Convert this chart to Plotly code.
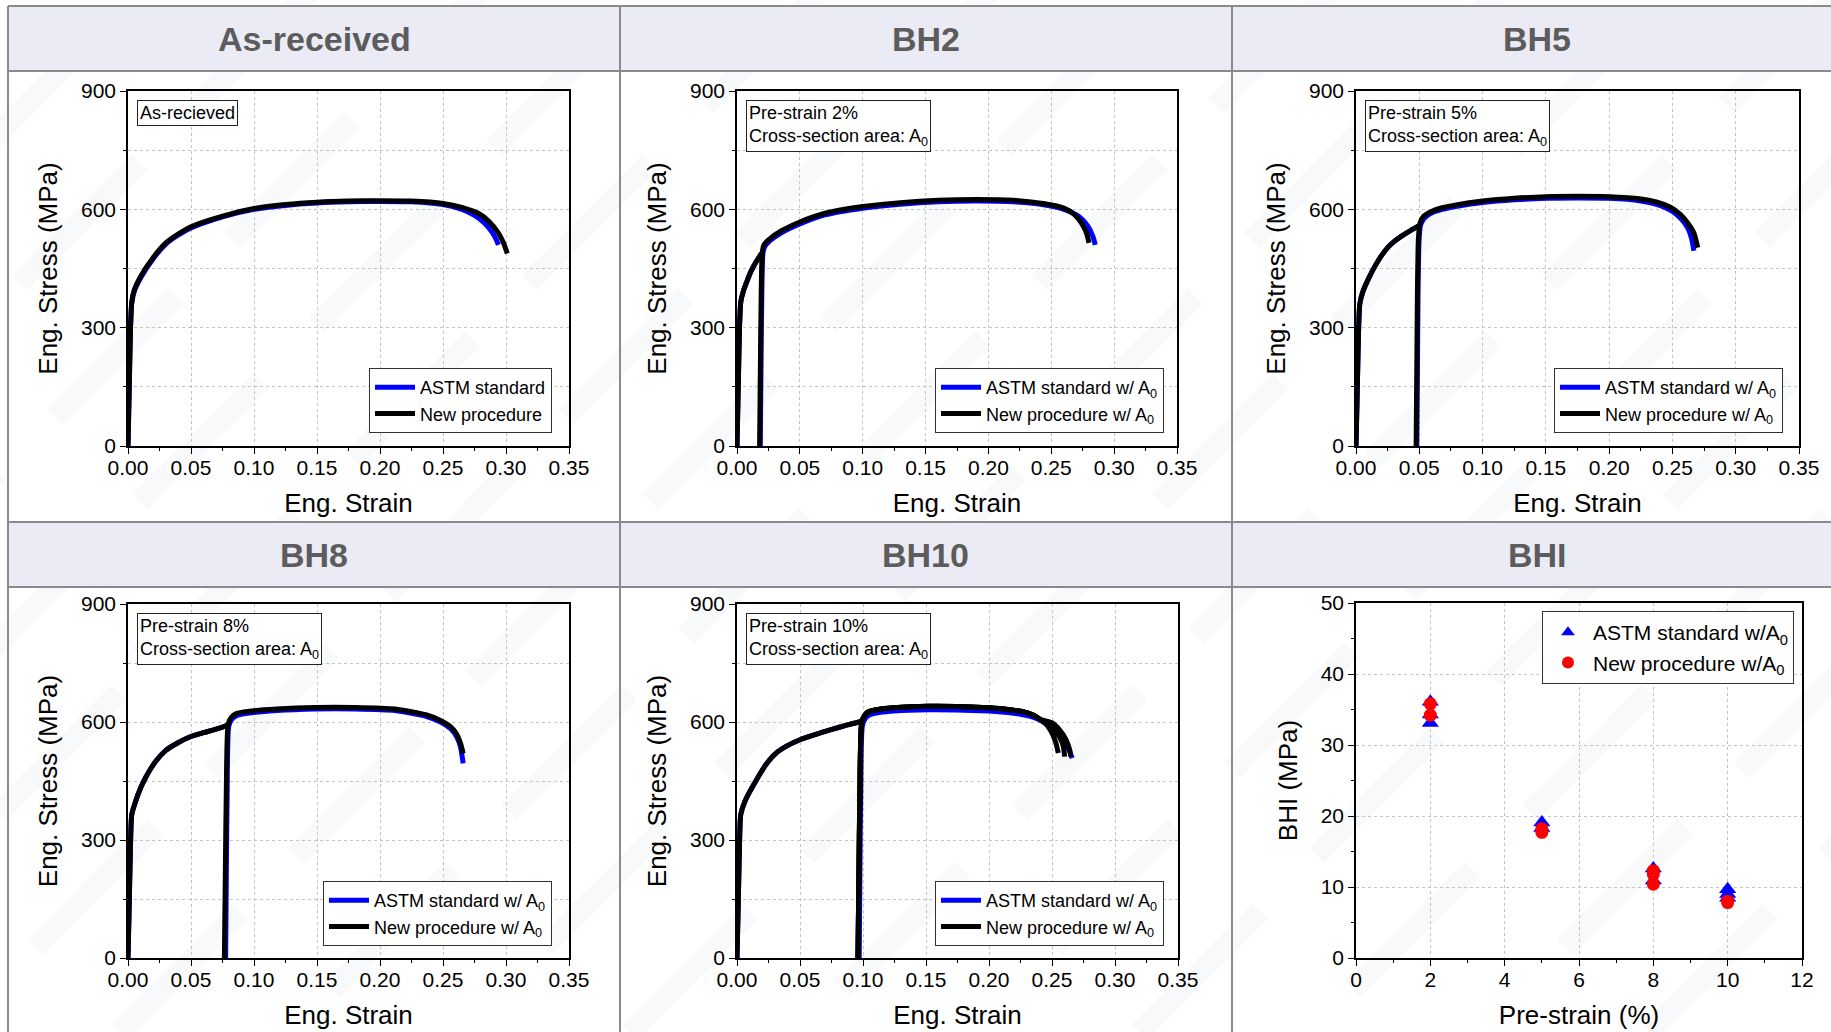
import plotly.graph_objects as go

# ---------------------------------------------------------------- data
# Engineering stress-strain readings (strain [-], stress [MPa])

# As-received
AR_ASTM_STRAIN = [0, 0.001, 0.002, 0.003, 0.005, 0.010, 0.020, 0.030, 0.040, 0.050, 0.075, 0.100,
                  0.125, 0.150, 0.175, 0.200, 0.225, 0.250, 0.265, 0.275, 0.283, 0.289, 0.292, 0.294]
AR_ASTM_STRESS = [0, 150, 300, 362, 392, 426, 475, 512, 535, 553, 581, 600,
                  610, 616, 619, 620, 619, 612, 600, 585, 565, 542, 525, 510]
AR_NEW_STRAIN = [0, 0.001, 0.002, 0.003, 0.005, 0.010, 0.020, 0.030, 0.040, 0.050, 0.075, 0.100,
                 0.125, 0.150, 0.175, 0.200, 0.225, 0.250, 0.265, 0.278, 0.287, 0.294, 0.298, 0.301]
AR_NEW_STRESS = [0, 150, 300, 366, 396, 430, 478, 515, 538, 556, 583, 602,
                 612, 618, 621, 622, 621, 615, 605, 590, 568, 540, 515, 488]

# BH2: 2 % pre-strain, then bake and reload
BH2_PRE_STRAIN = [0, 0.001, 0.002, 0.003, 0.005, 0.008, 0.011, 0.015, 0.0195]
BH2_PRE_STRESS = [0, 150, 300, 365, 392, 418, 442, 466, 488]
BH2_ASTM_STRAIN = [0.0185, 0.019, 0.0198, 0.0207, 0.022, 0.026, 0.035, 0.050, 0.070, 0.100, 0.130,
                   0.160, 0.190, 0.220, 0.245, 0.260, 0.272, 0.279, 0.283, 0.285]
BH2_ASTM_STRESS = [0, 170, 400, 490, 505, 520, 540, 563, 586, 603, 613,
                   619, 621, 619, 611, 600, 582, 558, 532, 510]
BH2_NEW_STRAIN = [0.018, 0.0185, 0.0193, 0.0202, 0.0215, 0.026, 0.035, 0.050, 0.070, 0.100, 0.130,
                  0.160, 0.190, 0.220, 0.245, 0.260, 0.268, 0.274, 0.278, 0.280]
BH2_NEW_STRESS = [0, 170, 400, 495, 510, 525, 545, 568, 590, 607, 617,
                  623, 625, 623, 614, 603, 588, 565, 540, 515]

# BH5: 5 % pre-strain
BH5_PRE_STRAIN = [0, 0.001, 0.002, 0.003, 0.0055, 0.010, 0.015, 0.020, 0.025, 0.030, 0.036, 0.042, 0.0495]
BH5_PRE_STRESS = [0, 140, 290, 360, 392, 425, 456, 482, 503, 518, 532, 544, 558]
BH5_ASTM_STRAIN = [0.048, 0.0485, 0.049, 0.0498, 0.051, 0.054, 0.060, 0.068, 0.080, 0.100, 0.125,
                   0.150, 0.175, 0.200, 0.224, 0.240, 0.250, 0.257, 0.262, 0.265, 0.267]
BH5_ASTM_STRESS = [0, 180, 380, 520, 560, 578, 591, 600, 608, 617, 624,
                   628, 629, 628, 622, 610, 595, 575, 553, 528, 495]
BH5_NEW_STRAIN = [0.0475, 0.048, 0.0485, 0.0493, 0.0505, 0.0536, 0.060, 0.068, 0.080, 0.100, 0.125,
                  0.150, 0.175, 0.200, 0.224, 0.238, 0.248, 0.256, 0.262, 0.267, 0.270]
BH5_NEW_STRESS = [0, 180, 380, 525, 565, 583, 595, 604, 612, 621, 628,
                  632, 633, 632, 627, 618, 606, 588, 566, 540, 503]

# BH8: 8 % pre-strain
BH8_PRE_STRAIN = [0, 0.001, 0.002, 0.003, 0.006, 0.010, 0.014, 0.022, 0.030, 0.040, 0.049,
                  0.060, 0.068, 0.075, 0.080]
BH8_PRE_STRESS = [0, 140, 290, 365, 398, 432, 459, 500, 528, 548, 562, 573, 580, 587, 593]
BH8_ASTM_STRAIN = [0.0775, 0.078, 0.0787, 0.080, 0.0825, 0.087, 0.095, 0.118, 0.149, 0.180, 0.212,
                   0.237, 0.248, 0.256, 0.261, 0.264, 0.266]
BH8_ASTM_STRESS = [0, 200, 420, 590, 607, 617, 622, 629, 633, 633, 629, 614, 600, 583, 562, 535, 495]
BH8_NEW_STRAIN = [0.0765, 0.0772, 0.078, 0.0795, 0.082, 0.0863, 0.095, 0.118, 0.149, 0.180, 0.212,
                  0.237, 0.248, 0.256, 0.261, 0.264, 0.266]
BH8_NEW_STRESS = [0, 200, 420, 595, 612, 622, 627, 633, 637, 637, 633, 618, 604, 588, 568, 545, 520]

# BH10: 10 % pre-strain (three new-procedure specimens share the body, differ at necking)
BH10_PRE_STRAIN = [0, 0.001, 0.002, 0.003, 0.0065, 0.0155, 0.023, 0.031, 0.040, 0.050, 0.062,
                   0.074, 0.087, 0.099]
BH10_PRE_STRESS = [0, 140, 290, 365, 400, 453, 492, 521, 540, 555, 568, 580, 592, 602]
BH10_ASTM_STRAIN = [0.097, 0.0975, 0.0982, 0.0995, 0.102, 0.106, 0.113, 0.125, 0.152, 0.180, 0.200,
                    0.215, 0.226, 0.236, 0.243, 0.250, 0.256, 0.261, 0.264, 0.266]
BH10_ASTM_STRESS = [0, 200, 420, 590, 610, 619, 624, 628, 631, 630, 628,
                    624, 619, 611, 600, 583, 563, 543, 525, 508]
BH10_NEW_BODY_STRAIN = [0.096, 0.0967, 0.0975, 0.099, 0.1015, 0.105, 0.112, 0.124, 0.152, 0.180,
                        0.200, 0.215, 0.226, 0.235, 0.241]
BH10_NEW_BODY_STRESS = [0, 200, 420, 600, 618, 627, 632, 636, 640, 639, 636, 632, 627, 618, 606]
BH10_NEW_TAIL_STRAIN = [[0.246, 0.250, 0.253, 0.255],
                        [0.247, 0.252, 0.256, 0.259, 0.260],
                        [0.250, 0.256, 0.261, 0.264, 0.265]]
BH10_NEW_TAIL_STRESS = [[592, 572, 548, 521],
                        [598, 582, 562, 538, 512],
                        [598, 580, 556, 530, 512]]

# Bake-hardening index vs pre-strain
BHI_ASTM_PRESTRAIN = [2, 2, 2, 5, 5, 8, 8, 10, 10, 10]
BHI_ASTM = [33.1, 34.3, 36.1, 18.3, 19.1, 10.9, 12.6, 8.5, 9.0, 9.7]
BHI_NEW_PRESTRAIN = [2, 2, 5, 5, 8, 8, 8, 10, 10]
BHI_NEW = [34.2, 35.8, 17.7, 18.2, 10.4, 11.8, 12.3, 7.8, 8.0]

HEADERS = ["As-received", "BH2", "BH5", "BH8", "BH10", "BHI"]
BOX_TEXT = ["As-recieved",
            "Pre-strain 2%<br>Cross-section area: A<sub>0</sub>",
            "Pre-strain 5%<br>Cross-section area: A<sub>0</sub>",
            "Pre-strain 8%<br>Cross-section area: A<sub>0</sub>",
            "Pre-strain 10%<br>Cross-section area: A<sub>0</sub>"]

# ---------------------------------------------------------------- layout helpers
W, H = 1831, 1032
FONT = "Liberation Sans, Arial, sans-serif"
BLUE, BLACK = "#0000ff", "#000000"
LW = 5


def fx(px):
    return px / W


def fy(py):
    return 1 - py / H


# plot areas in pixels: (left, right, top, bottom)
AREAS = [(128, 569, 91, 446), (737, 1177, 91, 446), (1356, 1799, 91, 446),
         (128, 569, 604, 958), (737, 1178, 604, 958), (1356, 1802, 603, 958)]

fig = go.Figure()


def add_line(i, x, y, color, name=None, legend=None, show=False):
    fig.add_trace(go.Scatter(
        x=x, y=y, mode="lines",
        line=dict(color=color, width=LW, shape="spline", smoothing=0.6),
        name=name, showlegend=show, legend=legend,
        xaxis="x" if i == 0 else f"x{i + 1}", yaxis="y" if i == 0 else f"y{i + 1}",
        hoverinfo="skip"))


def legend_key(i):
    return "legend" if i == 0 else f"legend{i + 1}"


# As-received panel
add_line(0, AR_ASTM_STRAIN, AR_ASTM_STRESS, BLUE, "ASTM standard", "legend", True)
add_line(0, AR_NEW_STRAIN, AR_NEW_STRESS, BLACK, "New procedure", "legend", True)

# pre-strained panels
bh_sets = [
    (1, BH2_PRE_STRAIN, BH2_PRE_STRESS, [(BH2_ASTM_STRAIN, BH2_ASTM_STRESS)], [(BH2_NEW_STRAIN, BH2_NEW_STRESS)]),
    (2, BH5_PRE_STRAIN, BH5_PRE_STRESS, [(BH5_ASTM_STRAIN, BH5_ASTM_STRESS)], [(BH5_NEW_STRAIN, BH5_NEW_STRESS)]),
    (3, BH8_PRE_STRAIN, BH8_PRE_STRESS, [(BH8_ASTM_STRAIN, BH8_ASTM_STRESS)], [(BH8_NEW_STRAIN, BH8_NEW_STRESS)]),
    (4, BH10_PRE_STRAIN, BH10_PRE_STRESS, [(BH10_ASTM_STRAIN, BH10_ASTM_STRESS)],
     [(BH10_NEW_BODY_STRAIN + ts, BH10_NEW_BODY_STRESS + tv)
      for ts, tv in zip(BH10_NEW_TAIL_STRAIN, BH10_NEW_TAIL_STRESS)]),
]
for i, pre_x, pre_y, astm, new in bh_sets:
    lg = legend_key(i)
    add_line(i, pre_x, pre_y, BLUE)
    for k, (sx, sy) in enumerate(astm):
        add_line(i, sx, sy, BLUE, "ASTM standard w/ A<sub>0</sub>", lg, k == 0)
    add_line(i, pre_x, pre_y, BLACK)
    for k, (sx, sy) in enumerate(new):
        add_line(i, sx, sy, BLACK, "New procedure w/ A<sub>0</sub>", lg, k == 0)

# BHI scatter
fig.add_trace(go.Scatter(x=BHI_ASTM_PRESTRAIN, y=BHI_ASTM, mode="markers",
                         marker=dict(symbol="triangle-up", size=15, color=BLUE),
                         name="ASTM standard w/A<sub>0</sub>", legend="legend6",
                         xaxis="x6", yaxis="y6", hoverinfo="skip"))
fig.add_trace(go.Scatter(x=BHI_NEW_PRESTRAIN, y=BHI_NEW, mode="markers",
                         marker=dict(symbol="circle", size=13, color="#ff0000"),
                         name="New procedure w/A<sub>0</sub>", legend="legend6",
                         xaxis="x6", yaxis="y6", hoverinfo="skip"))

# ---------------------------------------------------------------- axes
GRID = dict(showgrid=True, gridcolor="#c4c4c4", griddash="dot", gridwidth=1)
AX = dict(showline=True, linecolor="black", linewidth=1.5, mirror=True, ticks="outside",
          ticklen=6, tickwidth=1.2, tickcolor="black", zeroline=False, automargin=False,
          tickfont=dict(size=21, color="black", family=FONT),
          title_font=dict(size=26, color="black", family=FONT), **GRID)

layout = {}
for i, (l, r, t, b) in enumerate(AREAS):
    xa = "xaxis" if i == 0 else f"xaxis{i + 1}"
    ya = "yaxis" if i == 0 else f"yaxis{i + 1}"
    xr = "x" if i == 0 else f"x{i + 1}"
    yr = "y" if i == 0 else f"y{i + 1}"
    if i < 5:
        layout[xa] = dict(AX, domain=[fx(l), fx(r)], anchor=yr, range=[0, 0.35], tick0=0, dtick=0.05,
                          tickformat=".2f", ticklabelstandoff=-4,
                          title=dict(text="Eng. Strain", standoff=16),
                          minor=dict(dtick=0.025, ticks="outside", ticklen=3, tickcolor="black",
                                     showgrid=False))
        layout[ya] = dict(AX, domain=[fy(b), fy(t)], anchor=xr, range=[0, 900], tick0=0, dtick=300,
                          title=dict(text="Eng. Stress (MPa)", standoff=16),
                          minor=dict(dtick=150, ticks="outside", ticklen=3, tickcolor="black",
                                     showgrid=True, gridcolor="#c4c4c4", griddash="dot"))
    else:
        layout[xa] = dict(AX, domain=[fx(l), fx(r)], anchor=yr, range=[0, 12], tick0=0, dtick=2,
                          ticklabelstandoff=-4, title=dict(text="Pre-strain (%)", standoff=16),
                          minor=dict(dtick=1, ticks="outside", ticklen=3, tickcolor="black",
                                     showgrid=False))
        layout[ya] = dict(AX, domain=[fy(b), fy(t)], anchor=xr, range=[0, 50], tick0=0, dtick=10,
                          title=dict(text="BHI (MPa)", standoff=16),
                          minor=dict(dtick=5, ticks="outside", ticklen=3, tickcolor="black",
                                     showgrid=False))

# ---------------------------------------------------------------- legends
LEG = dict(bgcolor="white", bordercolor="#333333", borderwidth=1, xanchor="right",
           font=dict(size=18, color="black", family=FONT), tracegroupgap=0,
           itemsizing="constant", itemwidth=40)
legend_pos = [(552, 433), (1164, 433), (1783, 433), (552, 946), (1164, 946)]
for i, (rx, by) in enumerate(legend_pos):
    layout[legend_key(i)] = dict(LEG, x=fx(rx), y=fy(by), yanchor="bottom")
layout["legend6"] = dict(LEG, x=fx(1794), y=fy(611), yanchor="top",
                         font=dict(size=21, color="black", family=FONT))

# ---------------------------------------------------------------- table frame, stripes, headers
shapes = []
# faint diagonal background bands
for c in range(-900, 2900, 170):
    seg, gap = 170, 80
    s = (c // 170 % 3) * 60
    while s < 2000:
        x0 = c + s * 0.7071
        y0 = 1032 - s * 0.7071
        x1 = x0 + seg * 0.7071
        y1 = y0 - seg * 0.7071
        shapes.append(dict(type="line", xref="paper", yref="paper", x0=fx(x0), y0=fy(y0),
                           x1=fx(x1), y1=fy(y1), line=dict(color="rgba(214,218,230,0.16)", width=22),
                           layer="below"))
        s += seg + gap

HEADER_FILL = "#e8e9f3"
for top, bot in [(6, 71), (522, 587)]:
    shapes.append(dict(type="rect", xref="paper", yref="paper", x0=fx(8), x1=1.01, y0=fy(bot), y1=fy(top),
                       fillcolor=HEADER_FILL, line=dict(width=0), layer="below", opacity=0.92))
FRAME = dict(color="#8a8a8a", width=2)
for yy in [6, 71, 522, 587]:
    shapes.append(dict(type="line", xref="paper", yref="paper", x0=fx(8), x1=1.01, y0=fy(yy), y1=fy(yy),
                       line=FRAME, layer="above"))
for xx in [8, 620, 1232]:
    shapes.append(dict(type="line", xref="paper", yref="paper", x0=fx(xx), x1=fx(xx), y0=fy(6), y1=-0.01,
                       line=FRAME, layer="above"))

annotations = []
centers = [(314, 39), (926, 39), (1537, 39), (314, 555), (926, 555), (1537, 555)]
for (cx, cy), txt in zip(centers, HEADERS):
    annotations.append(dict(x=fx(cx), y=fy(cy), xref="paper", yref="paper", text=f"<b>{txt}</b>",
                            showarrow=False, xanchor="center", yanchor="middle",
                            font=dict(size=34, color="#5c5c5c", family=FONT)))

for i, txt in enumerate(BOX_TEXT):
    l, r, t, b = AREAS[i]
    annotations.append(dict(x=fx(l + 9), y=fy(t + 9), xref="paper", yref="paper", text=txt,
                            showarrow=False, xanchor="left", yanchor="top", align="left",
                            bordercolor="#222222", borderwidth=1, borderpad=2, bgcolor="white",
                            font=dict(size=18, color="black", family=FONT)))

fig.update_layout(
    width=W, height=H, margin=dict(l=0, r=0, t=0, b=0),
    paper_bgcolor="white", plot_bgcolor="rgba(0,0,0,0)",
    font=dict(family=FONT, color="black"),
    shapes=shapes, annotations=annotations, **layout)

fig.write_html("out.html")
